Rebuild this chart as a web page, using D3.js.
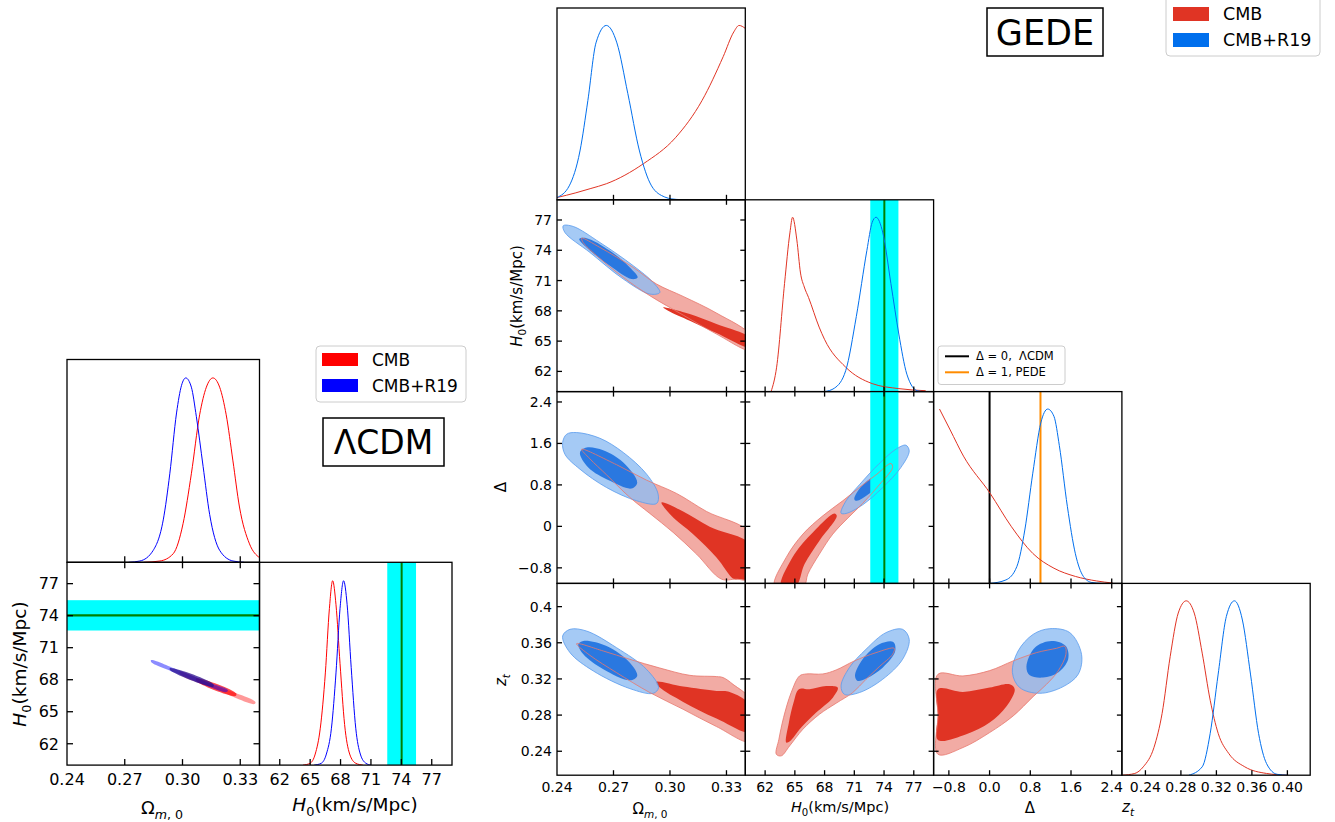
<!DOCTYPE html>
<html>
<head>
<meta charset="utf-8">
<script src="https://cdn.jsdelivr.net/npm/d3@7"></script>
<style>
  body { margin: 0; background: #fff; }
  svg { display: block; }
  text { font-family: "DejaVu Sans", sans-serif; fill: #000; }
</style>
</head>
<body>
<svg id="chart" width="1335" height="822"></svg>
<script>
// ---------- shared ----------
const riessH0 = 74.03;
const riessSigma = 1.42;

// ---------- LCDM data ----------
const lcdmOmTicks = [0.24, 0.27, 0.30, 0.33];
const lcdmH0Ticks = [62, 65, 68, 71, 74, 77];

const lcdmOmPdfCMB = [[0.280,0],[0.2883,0.007],[0.2952,0.047],[0.3003,0.21],[0.3046,0.48],[0.3089,0.80],[0.3124,0.95],[0.3158,1.0],
  [0.3193,0.95],[0.3227,0.80],[0.3262,0.55],[0.3296,0.30],[0.3348,0.10],[0.3400,0.025]];
const lcdmOmPdfR19 = [[0.272,0],[0.2779,0.007],[0.2848,0.065],[0.2900,0.23],[0.2934,0.48],[0.2969,0.81],[0.2995,0.96],[0.3017,1.0],
  [0.3046,0.95],[0.3072,0.79],[0.3107,0.52],[0.3141,0.26],[0.3193,0.065],[0.3262,0.007],[0.332,0]];
const lcdmH0PdfCMB = [[64.3,0],[65.0,0.01],[65.5,0.06],[66.0,0.2],[66.5,0.5],[66.9,0.85],[67.22,1.0],[67.55,0.87],[67.95,0.55],
  [68.4,0.22],[68.9,0.06],[69.5,0.01],[70.2,0]];
const lcdmH0PdfR19 = [[65.4,0],[66.1,0.01],[66.6,0.06],[67.1,0.2],[67.55,0.5],[67.95,0.85],[68.3,1.0],[68.65,0.87],[69.05,0.53],
  [69.5,0.2],[69.95,0.06],[70.5,0.01],[71.0,0]];

// 2D contours, [Omega_m, H0]
const lcdmContourCMB2 = [[0.2987,68.75],[0.316,67.5],[0.3379,65.91],[0.3374,65.72],[0.316,67.19],[0.2987,68.5]];
const lcdmContourCMB1 = [[0.3072,68.13],[0.3279,66.72],[0.3276,66.47],[0.3072,67.88]];
const lcdmContourR192 = [[0.2837,69.84],[0.2987,68.84],[0.3124,67.81],[0.3236,67.03],[0.3228,66.84],[0.3107,67.57],[0.2969,68.6],[0.2837,69.66]];
const lcdmContourR191 = [[0.2935,69.09],[0.316,67.6],[0.316,67.34],[0.2935,68.9]];

// ---------- GEDE data ----------
const gedeOmTicks = [0.24, 0.27, 0.30, 0.33];
const gedeH0Ticks = [62, 65, 68, 71, 74, 77];
const gedeDeltaTicks = [-0.8, 0, 0.8, 1.6, 2.4];
const gedeDeltaXLabels = ['\u22120.8', '0.0', '0.8', '1.6', '2.4'];
const gedeDeltaYLabels = ['\u22120.8', '0', '0.8', '1.6', '2.4'];
const gedeZtTicks = [0.24, 0.28, 0.32, 0.36, 0.40];
const gedeZtXLabels = ['0.24', '0.28', '0.32', '0.36', '0.40'];
const gedeZtYLabels = ['0.24', '0.28', '0.32', '0.36', '0.4'];

const gedeOmPdfCMB = [[0.240,0.013],[0.250,0.04],[0.258,0.065],[0.2662,0.092],[0.2859,0.207],[0.3029,0.356],[0.3170,0.569],
  [0.3283,0.822],[0.3339,0.963],[0.3367,1.0],[0.3400,0.983]];
const gedeOmPdfR19 = [[0.240,0.013],[0.2465,0.08],[0.2522,0.28],[0.2564,0.57],[0.2607,0.90],[0.2662,1.0],[0.2718,0.90],
  [0.2776,0.61],[0.2838,0.28],[0.2902,0.08],[0.2972,0.016],[0.3010,0.005],[0.3057,0.001],[0.3100,0]];
const gedeH0PdfCMB = [[62.6,0],[63.16,0.14],[63.96,0.62],[64.5,0.91],[64.77,1.0],[65.2,0.87],[65.57,0.68],[65.95,0.6],[66.38,0.54],
  [67.45,0.37],[67.99,0.30],[70.13,0.14],[72.8,0.046],[75.5,0.017],[78.2,0.005]];
const gedeH0PdfR19 = [[68.0,0],[69.0,0.02],[70.13,0.12],[71.2,0.43],[72.27,0.81],[72.8,0.97],[73.19,1.0],[73.88,0.91],[74.69,0.62],
  [75.49,0.33],[76.3,0.10],[77.35,0.005],[78.0,0]];
const gedeDeltaPdfCMB = [[-0.984,1.0],[-0.774,0.88],[-0.513,0.73],[0.01,0.517],[0.43,0.325],[0.849,0.172],[1.265,0.087],
  [1.686,0.04],[2.104,0.014],[2.42,0.002]];
const gedeDeltaPdfR19 = [[0.008,0],[0.322,0.02],[0.535,0.096],[0.692,0.306],[0.849,0.632],[1.006,0.92],[1.142,1.0],[1.265,0.958],
  [1.371,0.79],[1.529,0.44],[1.686,0.17],[1.843,0.04],[2.01,0.005],[2.2,0]];
const gedeZtPdfCMB = [[0.2135,0],[0.228,0.01],[0.2376,0.048],[0.2497,0.16],[0.2588,0.354],[0.2679,0.68],[0.277,0.93],[0.286,1.0],
  [0.295,0.93],[0.304,0.70],[0.313,0.43],[0.322,0.24],[0.334,0.124],[0.352,0.048],[0.3765,0.01],[0.40,0]];
const gedeZtPdfR19 = [[0.289,0],[0.304,0.048],[0.313,0.24],[0.322,0.58],[0.3312,0.91],[0.3403,1.0],[0.3493,0.89],[0.3584,0.58],
  [0.3675,0.24],[0.3765,0.067],[0.3885,0.005],[0.40,0]];

// [Omega_m, H0]
const gedeOmH0CMB2 = [[0.2531,75.2],[0.2628,74.28],[0.2805,72.3],[0.2929,70.65],[0.307,69.43],[0.3247,67.78],[0.343,65.52],
  [0.343,64.09],[0.3247,65.7],[0.307,67.58],[0.2893,69.5],[0.2752,71.31],[0.2611,73.46],[0.2539,74.77]];
const gedeOmH0CMB1 = [[0.2964,68.34],[0.3105,67.68],[0.3247,66.69],[0.343,65.25],[0.343,64.35],[0.3247,65.8],[0.3105,67.02],[0.299,68.01]];
const gedeOmH0R192 = [[0.2433,76.43],[0.2486,76.36],[0.2628,74.77],[0.2805,72.47],[0.2911,70.81],[0.2946,69.82],[0.2893,69.66],
  [0.2752,71.15],[0.2575,73.78],[0.2442,75.76]];
const gedeOmH0R191 = [[0.2518,75.11],[0.2557,75.2],[0.2681,73.95],[0.2787,72.3],[0.2828,71.31],[0.2796,71.15],[0.2681,72.47],[0.2566,74.12]];

// [Omega_m, Delta]
const gedeOmDeltaCMB2 = [[0.2531,1.489],[0.2717,1.188],[0.2876,0.891],[0.3035,0.635],[0.3194,0.288],[0.343,-0.15],[0.343,-1.017],
  [0.335,-1.017],[0.3273,-1.017],[0.3141,-0.535],[0.3017,-0.117],[0.2893,0.249],[0.2787,0.558],[0.2663,0.995],[0.2575,1.303]];
const gedeOmDeltaCMB1 = [[0.2955,0.461],[0.307,0.288],[0.3211,-0.007],[0.343,-0.36],[0.343,-1.017],[0.3368,-1.017],[0.334,-1.017],
  [0.3247,-0.598],[0.3123,-0.15],[0.3008,0.205]];
const gedeOmDeltaR192 = [[0.243,1.617],[0.2451,1.777],[0.2504,1.81],[0.2628,1.70],[0.2752,1.425],[0.2876,1.007],[0.2937,0.621],
  [0.2929,0.442],[0.2823,0.494],[0.2663,0.75],[0.2522,1.103],[0.2442,1.392]];
const gedeOmDeltaR191 = [[0.2522,1.425],[0.2557,1.521],[0.2645,1.469],[0.2752,1.232],[0.2826,0.847],[0.2796,0.731],[0.2681,0.879],[0.2566,1.136]];

// [H0, Delta]
const gedeH0DeltaCMB2 = [[62.96,-1.15],[64.13,-0.598],[65.81,-0.149],[67.82,0.204],[69.83,0.493],[71.51,0.75],[73.19,0.994],
  [74.70,1.213],[74.86,1.136],[73.52,0.802],[71.84,0.442],[70.34,0.159],[68.83,-0.149],[67.48,-0.534],[66.31,-0.92],[65.9,-1.15]];
const gedeH0DeltaCMB1 = [[63.6,-1.15],[64.97,-0.534],[66.81,-0.117],[68.99,0.249],[69.23,0.204],[67.48,-0.277],[65.98,-0.727],[65.1,-1.15]];
const gedeH0DeltaR192 = [[69.66,0.256],[70.17,0.493],[71.51,0.802],[73.52,1.213],[75.2,1.489],[76.2,1.566],[76.54,1.457],
  [75.7,1.136],[73.86,0.75],[71.84,0.416],[70.17,0.249]];
const gedeH0DeltaR191 = [[71.0,0.525],[71.68,0.763],[73.19,1.006],[74.53,1.168],[74.8,1.084],[73.69,0.847],[72.35,0.609],[71.24,0.493]];

// [Omega_m, z_t]
const gedeOmZtCMB2 = [[0.2504,0.359],[0.2646,0.3509],[0.2787,0.3417],[0.2946,0.3321],[0.3105,0.324],[0.3247,0.3226],[0.3282,0.3215],
  [0.3335,0.314],[0.343,0.296],[0.343,0.2508],[0.3247,0.2673],[0.307,0.2864],[0.2893,0.3049],[0.2716,0.327],[0.2575,0.3461]];
const gedeOmZtCMB1 = [[0.2925,0.3166],[0.307,0.3115],[0.3247,0.3067],[0.3317,0.3056],[0.343,0.290],[0.343,0.261],[0.3247,0.2761],
  [0.307,0.2946],[0.2946,0.3104]];
const gedeOmZtR192 = [[0.243,0.3675],[0.2469,0.3749],[0.2557,0.373],[0.2716,0.3546],[0.2875,0.3307],[0.2939,0.3104],[0.2911,0.3041],
  [0.2787,0.3093],[0.2593,0.3288],[0.2469,0.3491]];
const gedeOmZtR191 = [[0.2513,0.3583],[0.254,0.362],[0.2663,0.3564],[0.2787,0.338],[0.2826,0.3233],[0.2787,0.3185],[0.2646,0.3307],[0.254,0.3472]];

// [H0, z_t]
const gedeH0ZtCMB2 = [[63.13,0.2367],[63.39,0.2533],[63.86,0.2772],[64.63,0.3049],[65.47,0.3233],[66.14,0.3255],[67.82,0.3255],
  [69.16,0.3299],[71.0,0.3399],[73.19,0.3491],[75.03,0.3539],[74.86,0.3472],[73.52,0.3336],[72.18,0.3196],[70.84,0.3049],
  [69.16,0.2931],[67.48,0.2809],[65.81,0.2643],[64.47,0.2459],[63.63,0.2349]];
const gedeH0ZtCMB1 = [[64.13,0.2496],[64.4,0.2717],[64.87,0.2938],[65.41,0.3086],[66.48,0.3086],[68.16,0.3122],[69.33,0.3104],
  [68.83,0.2993],[67.15,0.2828],[65.64,0.2662],[64.5,0.2510]];
const gedeH0ZtR192 = [[69.66,0.3122],[70.5,0.3325],[72.18,0.3528],[74.19,0.3712],[75.87,0.3749],[76.54,0.3638],[75.87,0.3417],
  [73.86,0.3196],[71.51,0.3049],[70.0,0.303]];
const gedeH0ZtR191 = [[71.07,0.3233],[71.84,0.3417],[73.52,0.3583],[74.93,0.3609],[75.13,0.3509],[73.86,0.3325],[72.18,0.3204],[71.34,0.3178]];

// [Delta, z_t]
const gedeDeltaZtCMB2 = [[-1.015,0.3251],[-0.523,0.3233],[0.002,0.3292],[0.462,0.3399],[0.921,0.3491],[1.315,0.3539],[1.479,0.3561],
  [1.5,0.3472],[1.347,0.3288],[1.118,0.314],[0.855,0.3004],[0.462,0.279],[0.002,0.2607],[-0.523,0.2441],[-1.015,0.2367],[-1.015,0.28]];
const gedeDeltaZtCMB1 = [[-1.015,0.3086],[-0.523,0.3056],[0.002,0.3104],[0.396,0.314],[0.494,0.3086],[0.33,0.2894],[0.002,0.2717],
  [-0.457,0.2588],[-1.015,0.2525],[-1.015,0.28]];
const gedeDeltaZtR192 = [[0.449,0.327],[0.56,0.3509],[0.855,0.3693],[1.183,0.3756],[1.577,0.3712],[1.807,0.3472],[1.741,0.3251],
  [1.446,0.3115],[0.987,0.3041],[0.593,0.3104]];
const gedeDeltaZtR191 = [[0.724,0.3336],[0.888,0.3546],[1.216,0.362],[1.498,0.3564],[1.544,0.3417],[1.347,0.327],[1.052,0.3215],[0.789,0.324]];

// ---------- drawing ----------
const svg = d3.select('#chart');
const defs = svg.append('defs');
let clipCount = 0;

const colors = {
  lcdmRed: '#ff0000', lcdmBlue: '#0000ff',
  red: '#e03424', blue: '#006fed',
  red2: '#f2aba4', red1: '#e03424',
  blue2: '#8fbdf3', blue1: '#1f72e0',
  red2Line: '#e8786e', blue2Line: '#5a9cee'
};

function makePanel(x, y, w, h, xDomain, yDomain) {
  const id = `clip${clipCount++}`;
  defs.append('clipPath').attr('id', id)
    .append('rect').attr('width', w).attr('height', h);
  const g = svg.append('g').attr('transform', `translate(${x},${y})`);
  const inner = g.append('g').attr('clip-path', `url(#${id})`);
  const xs = d3.scaleLinear().domain(xDomain).range([0, w]);
  const ys = d3.scaleLinear().domain(yDomain).range([h, 0]);
  return {g, inner, xs, ys, w, h};
}

function drawFrame(p, xTicks, yTicks, allSides, len) {
  const inX = xTicks.filter(t => p.xs(t) > 1 && p.xs(t) < p.w - 1);
  const inY = yTicks.filter(t => p.ys(t) > 1 && p.ys(t) < p.h - 1);
  const tickG = p.g.append('g').style('stroke', '#000').style('stroke-width', 1.3);
  inX.forEach(t => {
    tickG.append('line').attr('x1', p.xs(t)).attr('x2', p.xs(t)).attr('y1', p.h).attr('y2', p.h - len);
    if (allSides)
      tickG.append('line').attr('x1', p.xs(t)).attr('x2', p.xs(t)).attr('y1', 0).attr('y2', len);
  });
  if (allSides) {
    inY.forEach(t => {
      tickG.append('line').attr('x1', 0).attr('x2', len).attr('y1', p.ys(t)).attr('y2', p.ys(t));
      tickG.append('line').attr('x1', p.w).attr('x2', p.w - len).attr('y1', p.ys(t)).attr('y2', p.ys(t));
    });
  }
  p.g.append('rect')
    .attr('width', p.w).attr('height', p.h)
    .style('fill', 'none').style('stroke', '#000').style('stroke-width', 1.3);
}

function xTickLabels(p, ticks, labels, dy, size) {
  p.g.selectAll(null).data(ticks).join('text')
    .attr('x', d => p.xs(d)).attr('y', p.h + dy)
    .attr('text-anchor', 'middle').style('font-size', size + 'px')
    .text((d, i) => labels[i]);
}

function yTickLabels(p, ticks, labels, dx, size) {
  p.g.selectAll(null).data(ticks).join('text')
    .attr('x', -dx).attr('y', d => p.ys(d))
    .attr('dy', '0.36em')
    .attr('text-anchor', 'end').style('font-size', size + 'px')
    .text((d, i) => labels[i]);
}

function mathText(x, y, parts, size, rotate) {
  const t = svg.append('text').attr('x', x).attr('y', y)
    .attr('text-anchor', 'middle').style('font-size', size + 'px');
  if (rotate) t.attr('transform', `rotate(-90,${x},${y})`);
  let shift = 0;
  parts.forEach(part => {
    const want = part.sub ? size * 0.28 : 0;
    const ts = t.append('tspan').attr('dy', want - shift).text(part.t);
    if (part.sub) ts.style('font-size', (size * 0.7) + 'px');
    if (part.it) ts.style('font-style', 'italic');
    shift = want;
  });
}

function drawPdf(p, data, color, width) {
  const line = d3.line().x(d => p.xs(d[0])).y(d => p.ys(d[1])).curve(d3.curveMonotoneX);
  p.inner.append('path').datum(data)
    .attr('d', line)
    .style('fill', 'none').style('stroke', color).style('stroke-width', width || 1);
}

function contourPath(p) {
  return d3.line().x(d => p.xs(d[0])).y(d => p.ys(d[1])).curve(d3.curveCatmullRomClosed.alpha(0.5));
}

function fillContour(p, data, fill, opacity) {
  p.inner.append('path').datum(data)
    .attr('d', contourPath(p))
    .style('fill', fill).style('fill-opacity', opacity).style('stroke', 'none');
}

function strokeContour(p, data, stroke, width, opacity) {
  p.inner.append('path').datum(data)
    .attr('d', contourPath(p))
    .style('fill', 'none').style('stroke', stroke)
    .style('stroke-width', width).style('stroke-opacity', opacity);
}

function riessBandX(p) {
  p.inner.append('rect')
    .attr('x', p.xs(riessH0 - riessSigma)).attr('y', 0)
    .attr('width', p.xs(riessH0 + riessSigma) - p.xs(riessH0 - riessSigma)).attr('height', p.h)
    .style('fill', '#00ffff');
}

function riessLineX(p) {
  p.inner.append('line')
    .attr('x1', p.xs(riessH0)).attr('x2', p.xs(riessH0)).attr('y1', 0).attr('y2', p.h)
    .style('stroke', '#008000').style('stroke-width', 2);
}

function gedeContours(p, cmb2, cmb1, r192, r191, band) {
  fillContour(p, cmb2, colors.red2, 1);
  fillContour(p, cmb1, colors.red1, 1);
  fillContour(p, r192, colors.blue2, 0.8);
  fillContour(p, r191, colors.blue1, 0.92);
  if (band) riessBandX(p);
  strokeContour(p, r192, colors.blue2Line, 0.9, 0.9);
  strokeContour(p, cmb2, colors.red2Line, 0.9, 0.9);
  if (band) riessLineX(p);
}

// ================= LCDM corner =================
const lx0 = 67, lw = 192.5, ly0 = 359.5, lh = 202.8;
const lcdmOmDomain = [0.24, 0.34];
const lcdmH0Domain = [60, 79];

const lcdmOm1D = makePanel(lx0, ly0, lw, lh, lcdmOmDomain, [0, 1.1]);
drawPdf(lcdmOm1D, lcdmOmPdfCMB, colors.lcdmRed);
drawPdf(lcdmOm1D, lcdmOmPdfR19, colors.lcdmBlue);
drawFrame(lcdmOm1D, lcdmOmTicks, [], false, 6);

const lcdm2D = makePanel(lx0, ly0 + lh, lw, lh, lcdmOmDomain, lcdmH0Domain);
lcdm2D.inner.append('rect')
  .attr('x', 0).attr('width', lw)
  .attr('y', lcdm2D.ys(riessH0 + riessSigma))
  .attr('height', lcdm2D.ys(riessH0 - riessSigma) - lcdm2D.ys(riessH0 + riessSigma))
  .style('fill', '#00ffff');
lcdm2D.inner.append('line')
  .attr('x1', 0).attr('x2', lw).attr('y1', lcdm2D.ys(riessH0)).attr('y2', lcdm2D.ys(riessH0))
  .style('stroke', '#008000').style('stroke-width', 2.2);
fillContour(lcdm2D, lcdmContourCMB2, colors.lcdmRed, 0.4);
fillContour(lcdm2D, lcdmContourCMB1, colors.lcdmRed, 0.7);
fillContour(lcdm2D, lcdmContourR192, colors.lcdmBlue, 0.45);
fillContour(lcdm2D, lcdmContourR191, '#2a1090', 0.75);
drawFrame(lcdm2D, lcdmOmTicks, lcdmH0Ticks, true, 6);
xTickLabels(lcdm2D, lcdmOmTicks, lcdmOmTicks.map(d => d.toFixed(2)), 20, 16);
yTickLabels(lcdm2D, lcdmH0Ticks, lcdmH0Ticks.map(String), 8, 16);

const lcdmH01D = makePanel(lx0 + lw, ly0 + lh, lw, lh, lcdmH0Domain, [0, 1.1]);
riessBandX(lcdmH01D);
riessLineX(lcdmH01D);
drawPdf(lcdmH01D, lcdmH0PdfCMB, colors.lcdmRed);
drawPdf(lcdmH01D, lcdmH0PdfR19, colors.lcdmBlue);
drawFrame(lcdmH01D, lcdmH0Ticks, [], false, 6);
xTickLabels(lcdmH01D, lcdmH0Ticks, lcdmH0Ticks.map(String), 20, 16);

mathText(162, 814, [{t: '\u03a9'}, {t: 'm', sub: true, it: true}, {t: ', 0', sub: true}], 18);
mathText(355, 811, [{t: 'H', it: true}, {t: '0', sub: true}, {t: '(km/s/Mpc)'}], 18.5);
mathText(26, 664, [{t: 'H', it: true}, {t: '0', sub: true}, {t: '(km/s/Mpc)'}], 18.5, true);

// LCDM legend
const lcdmLegend = svg.append('g').attr('transform', 'translate(316,346)');
lcdmLegend.append('rect').attr('width', 150).attr('height', 56).attr('rx', 4)
  .style('fill', '#fff').style('stroke', '#cccccc').style('stroke-width', 1);
[['CMB', colors.lcdmRed], ['CMB+R19', colors.lcdmBlue]].forEach(([name, c], i) => {
  lcdmLegend.append('rect').attr('x', 6).attr('y', 7 + i * 26).attr('width', 36).attr('height', 13).style('fill', c);
  lcdmLegend.append('text').attr('x', 56).attr('y', 14 + i * 26).attr('dy', '0.36em')
    .style('font-size', '17px').text(name);
});

// LCDM title
svg.append('rect').attr('x', 323).attr('y', 418).attr('width', 121).attr('height', 48)
  .style('fill', '#fff').style('stroke', '#000').style('stroke-width', 1.5);
svg.append('text').attr('x', 383.5).attr('y', 442).attr('dy', '0.36em')
  .attr('text-anchor', 'middle').style('font-size', '33px').text('\u039bCDM');

// ================= GEDE corner =================
const gx0 = 557, gw = 188.3, gy0 = 8, gh = 191.8;
const gedeOmDomain = [0.24, 0.34];
const gedeH0Domain = [60, 79];
const gedeDeltaDomain = [-1.1, 2.6];
const gedeZtDomain = [0.2135, 0.4257];
const gedeDomains = [gedeOmDomain, gedeH0Domain, gedeDeltaDomain, gedeZtDomain];

function gedePanel(row, col, oneD) {
  return makePanel(gx0 + col * gw, gy0 + row * gh, gw, gh,
    gedeDomains[col], oneD ? [0, 1.1] : gedeDomains[row]);
}

// diagonal
const gOm = gedePanel(0, 0, true);
drawPdf(gOm, gedeOmPdfCMB, colors.red);
drawPdf(gOm, gedeOmPdfR19, colors.blue);
drawFrame(gOm, gedeOmTicks, [], false, 5);

const gH0 = gedePanel(1, 1, true);
riessBandX(gH0);
riessLineX(gH0);
drawPdf(gH0, gedeH0PdfCMB, colors.red);
drawPdf(gH0, gedeH0PdfR19, colors.blue);
drawFrame(gH0, gedeH0Ticks, [], false, 5);

const gDelta = gedePanel(2, 2, true);
[[0, '#000000'], [1, '#ff8c00']].forEach(([v, c]) => {
  gDelta.inner.append('line')
    .attr('x1', gDelta.xs(v)).attr('x2', gDelta.xs(v)).attr('y1', 0).attr('y2', gDelta.h)
    .style('stroke', c).style('stroke-width', 2);
});
drawPdf(gDelta, gedeDeltaPdfCMB, colors.red);
drawPdf(gDelta, gedeDeltaPdfR19, colors.blue);
drawFrame(gDelta, gedeDeltaTicks, [], false, 5);

const gZt = gedePanel(3, 3, true);
drawPdf(gZt, gedeZtPdfCMB, colors.red);
drawPdf(gZt, gedeZtPdfR19, colors.blue);
drawFrame(gZt, gedeZtTicks, [], false, 5);

// off-diagonal
const pOmH0 = gedePanel(1, 0);
gedeContours(pOmH0, gedeOmH0CMB2, gedeOmH0CMB1, gedeOmH0R192, gedeOmH0R191, false);
drawFrame(pOmH0, gedeOmTicks, gedeH0Ticks, true, 5);

const pOmDelta = gedePanel(2, 0);
gedeContours(pOmDelta, gedeOmDeltaCMB2, gedeOmDeltaCMB1, gedeOmDeltaR192, gedeOmDeltaR191, false);
drawFrame(pOmDelta, gedeOmTicks, gedeDeltaTicks, true, 5);

const pH0Delta = gedePanel(2, 1);
gedeContours(pH0Delta, gedeH0DeltaCMB2, gedeH0DeltaCMB1, gedeH0DeltaR192, gedeH0DeltaR191, true);
drawFrame(pH0Delta, gedeH0Ticks, gedeDeltaTicks, true, 5);

const pOmZt = gedePanel(3, 0);
gedeContours(pOmZt, gedeOmZtCMB2, gedeOmZtCMB1, gedeOmZtR192, gedeOmZtR191, false);
drawFrame(pOmZt, gedeOmTicks, gedeZtTicks, true, 5);

const pH0Zt = gedePanel(3, 1);
gedeContours(pH0Zt, gedeH0ZtCMB2, gedeH0ZtCMB1, gedeH0ZtR192, gedeH0ZtR191, false);
drawFrame(pH0Zt, gedeH0Ticks, gedeZtTicks, true, 5);

const pDeltaZt = gedePanel(3, 2);
gedeContours(pDeltaZt, gedeDeltaZtCMB2, gedeDeltaZtCMB1, gedeDeltaZtR192, gedeDeltaZtR191, false);
drawFrame(pDeltaZt, gedeDeltaTicks, gedeZtTicks, true, 5);

// tick labels
xTickLabels(pOmZt, gedeOmTicks, gedeOmTicks.map(d => d.toFixed(2)), 16.5, 14);
xTickLabels(pH0Zt, gedeH0Ticks, gedeH0Ticks.map(String), 16.5, 14);
xTickLabels(pDeltaZt, gedeDeltaTicks, gedeDeltaXLabels, 16.5, 14);
xTickLabels(gZt, gedeZtTicks, gedeZtXLabels, 16.5, 14);
yTickLabels(pOmH0, gedeH0Ticks, gedeH0Ticks.map(String), 5, 14);
yTickLabels(pOmDelta, gedeDeltaTicks, gedeDeltaYLabels, 5, 14);
yTickLabels(pOmZt, gedeZtTicks, gedeZtYLabels, 5, 14);

// axis labels
mathText(650, 814, [{t: '\u03a9'}, {t: 'm', sub: true, it: true}, {t: ', 0', sub: true}], 15);
mathText(840, 812, [{t: 'H', it: true}, {t: '0', sub: true}, {t: '(km/s/Mpc)'}], 14.5);
mathText(1030, 813, [{t: '\u0394'}], 15);
mathText(1128, 812, [{t: 'z', it: true}, {t: 't', sub: true, it: true}], 15);
mathText(522, 296, [{t: 'H', it: true}, {t: '0', sub: true}, {t: '(km/s/Mpc)'}], 15, true);
mathText(506, 487, [{t: '\u0394'}], 15, true);
mathText(506, 680, [{t: 'z', it: true}, {t: 't', sub: true, it: true}], 15, true);

// Delta legend
const deltaLegend = svg.append('g').attr('transform', 'translate(938,346)');
deltaLegend.append('rect').attr('width', 127).attr('height', 38.5).attr('rx', 3)
  .style('fill', '#fff').style('fill-opacity', 0.85).style('stroke', '#cccccc').style('stroke-width', 1);
[['\u0394 = 0,  \u039bCDM', '#000000'], ['\u0394 = 1, PEDE', '#ff8c00']].forEach(([name, c], i) => {
  deltaLegend.append('line').attr('x1', 7).attr('x2', 31).attr('y1', 10.3 + i * 16).attr('y2', 10.3 + i * 16)
    .style('stroke', c).style('stroke-width', 2);
  deltaLegend.append('text').attr('x', 38).attr('y', 10.3 + i * 16).attr('dy', '0.36em')
    .style('font-size', '11.5px').style('white-space', 'pre').text(name);
});

// GEDE legend
const gedeLegend = svg.append('g').attr('transform', 'translate(1166,-6)');
gedeLegend.append('rect').attr('width', 154).attr('height', 62).attr('rx', 4)
  .style('fill', '#fff').style('stroke', '#cccccc').style('stroke-width', 1);
[['CMB', colors.red], ['CMB+R19', colors.blue]].forEach(([name, c], i) => {
  gedeLegend.append('rect').attr('x', 7).attr('y', 13 + i * 26).attr('width', 36).attr('height', 14).style('fill', c);
  gedeLegend.append('text').attr('x', 57).attr('y', 20 + i * 26).attr('dy', '0.36em')
    .style('font-size', '17.5px').text(name);
});

// GEDE title
svg.append('rect').attr('x', 987).attr('y', 8).attr('width', 116).attr('height', 48)
  .style('fill', '#fff').style('stroke', '#000').style('stroke-width', 1.5);
svg.append('text').attr('x', 1045).attr('y', 32).attr('dy', '0.36em')
  .attr('text-anchor', 'middle').style('font-size', '35px').text('GEDE');
</script>
</body>
</html>
